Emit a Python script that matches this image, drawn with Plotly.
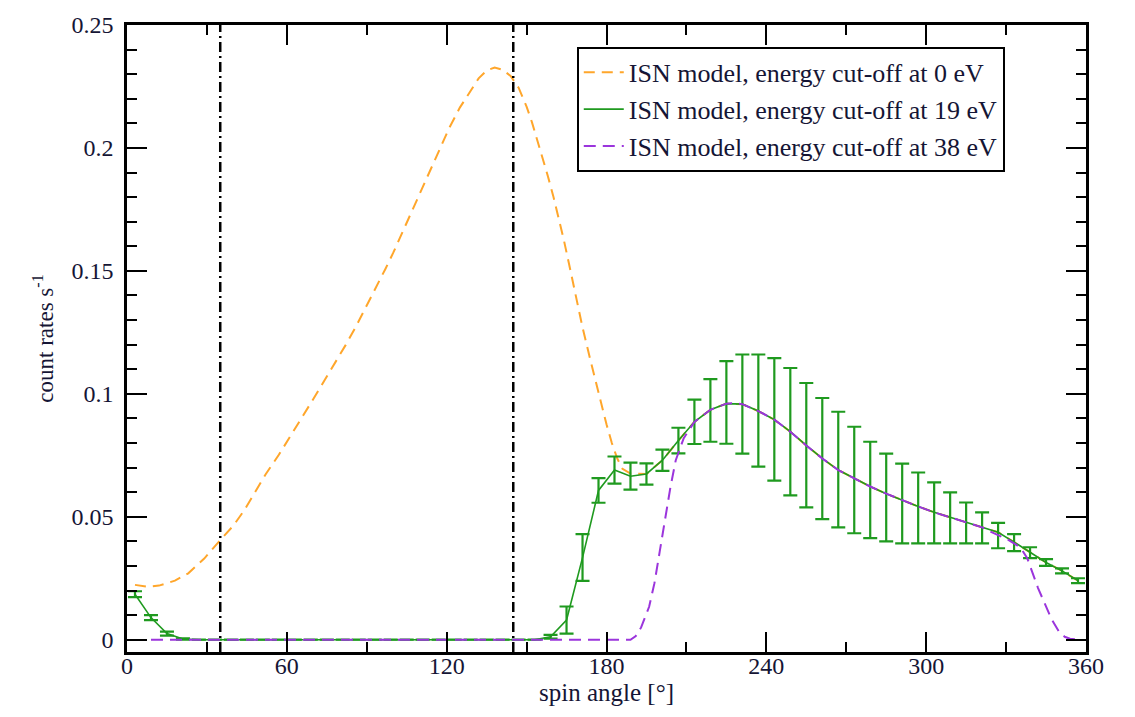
import plotly.graph_objects as go

# ---------------- data ----------------
orange_x = [3, 8, 12, 18, 23, 29, 35, 40, 44, 48, 52, 57, 61, 66, 70, 74, 78, 82, 86,
            90, 94, 97, 100, 105, 110, 114, 117, 121, 125, 129, 132, 135, 138, 141,
            144, 147, 150, 152, 155, 158, 160, 162, 164, 166, 169, 171, 174, 176, 178,
            180, 182, 184, 186, 189, 195, 201, 207, 213, 219, 225, 231, 237, 243,
            249, 255, 261, 267, 273, 279, 285, 291, 297, 303, 309, 315, 321, 327,
            333, 339, 345, 351, 357]
orange_y = [0.0223, 0.0215, 0.0220, 0.0240, 0.0270, 0.0330, 0.0405, 0.0465, 0.0526,
            0.0598, 0.0672, 0.0752, 0.0822, 0.0905, 0.0980, 0.1052, 0.1122, 0.1197,
            0.1275, 0.1358, 0.1442, 0.1508, 0.1575, 0.1695, 0.1820, 0.1915, 0.1990,
            0.2082, 0.2165, 0.2235, 0.2283, 0.2315, 0.2327, 0.2318, 0.2293, 0.2245,
            0.2168, 0.2105, 0.2000, 0.1885, 0.1805, 0.1718, 0.1625, 0.1525, 0.1375,
            0.1270, 0.1135, 0.1045, 0.0958, 0.0876, 0.0800, 0.0738, 0.0695, 0.0676,
            0.0674, 0.0730, 0.0810, 0.0886, 0.0935, 0.0960, 0.0958, 0.0930, 0.0895,
            0.0846, 0.0790, 0.0737, 0.0690, 0.0656, 0.0623, 0.0594, 0.0567, 0.0542,
            0.0518, 0.0498, 0.0480, 0.0457, 0.0437, 0.0397, 0.0356, 0.0314, 0.0280,
            0.0240]

green_x = [3, 9, 15, 21, 27, 33, 39, 45, 51, 57, 63, 69, 75, 81, 87, 93, 99, 105,
           111, 117, 123, 129, 135, 141, 147, 153, 159, 165, 171, 177, 183, 189,
           195, 201, 207, 213, 219, 225, 231, 237, 243, 249, 255, 261, 267, 273,
           279, 285, 291, 297, 303, 309, 315, 321, 327, 333, 339, 345, 351, 357]
green_y = [0.0185, 0.0090, 0.0025, 0.0003, 0, 0, 0, 0, 0, 0, 0, 0, 0, 0, 0, 0, 0, 0,
           0, 0, 0, 0, 0, 0, 0, 0, 0.0012, 0.0080, 0.0334, 0.0607, 0.0690, 0.0665,
           0.0674, 0.0730, 0.0810, 0.0886, 0.0935, 0.0960, 0.0958, 0.0930, 0.0895,
           0.0846, 0.0790, 0.0737, 0.0690, 0.0656, 0.0623, 0.0594, 0.0567, 0.0542,
           0.0518, 0.0498, 0.0480, 0.0457, 0.0437, 0.0397, 0.0356, 0.0314, 0.0280,
           0.0240]
green_err_plus = [0.0012, 0.0010, 0.0008, 0.0003, 0, 0, 0, 0, 0, 0, 0, 0, 0, 0, 0, 0,
                  0, 0, 0, 0, 0, 0, 0, 0, 0, 0, 0.0008, 0.0055, 0.0095, 0.0050, 0.0055,
                  0.0055, 0.0043, 0.0043, 0.0052, 0.0090, 0.0125, 0.0173, 0.0202,
                  0.0230, 0.0250, 0.0259, 0.0254, 0.0246, 0.0237, 0.0210, 0.0182,
                  0.0163, 0.0149, 0.0138, 0.0122, 0.0101, 0.0078, 0.0061, 0.0038,
                  0.0032, 0.0020, 0.0014, 0.0010, 0.0010]
green_err_minus = [0.0012, 0.0010, 0.0008, 0.0003, 0, 0, 0, 0, 0, 0, 0, 0, 0, 0, 0, 0,
                   0, 0, 0, 0, 0, 0, 0, 0, 0, 0, 0.0008, 0.0055, 0.0095, 0.0050, 0.0055,
                   0.0055, 0.0043, 0.0043, 0.0052, 0.0090, 0.0130, 0.0163, 0.0201,
                   0.0226, 0.0248, 0.0259, 0.0252, 0.0247, 0.0233, 0.0223, 0.0210,
                   0.0194, 0.0175, 0.0150, 0.0126, 0.0106, 0.0088, 0.0065, 0.0065,
                   0.0037, 0.0024, 0.0014, 0.0010, 0.0010]

purple_x = [9, 189, 191, 193, 196, 198, 200, 202, 204, 206, 209, 213, 219, 225, 228,
            231, 237, 243, 249, 255, 261, 267, 273, 279, 285, 291, 297, 303, 309,
            315, 321, 324, 327, 331, 334, 336, 338, 340, 342, 344, 347, 350, 352,
            354, 357]
purple_y = [0, 0, 0.0015, 0.0050, 0.0134, 0.0230, 0.0360, 0.0500, 0.0620, 0.0730,
            0.0820, 0.0886, 0.0935, 0.0960, 0.0963, 0.0958, 0.0930, 0.0895, 0.0846,
            0.0790, 0.0737, 0.0690, 0.0656, 0.0623, 0.0594, 0.0567, 0.0542, 0.0518,
            0.0498, 0.0480, 0.0457, 0.0440, 0.0425, 0.0405, 0.0385, 0.0365, 0.0330,
            0.0270, 0.0210, 0.0160, 0.0085, 0.0030, 0.0012, 0.0004, 0.0]

vline_x = [35, 145]

series_names = ["ISN model, energy cut-off at 0 eV",
                "ISN model, energy cut-off at 19 eV",
                "ISN model, energy cut-off at 38 eV"]

x_ticks = [0, 60, 120, 180, 240, 300, 360]
y_ticks = [0, 0.05, 0.1, 0.15, 0.2, 0.25]
y_tick_labels = ["0", "0.05", "0.1", "0.15", "0.2", "0.25"]

# ---------------- figure ----------------
FONT = "Liberation Serif"
ORANGE = "#ffa62b"
GREEN = "#1f9a1f"
PURPLE = "#9b35dc"
TXT = "#151535"

fig = go.Figure()

fig.add_trace(go.Scatter(
    x=orange_x, y=orange_y, mode="lines", name=series_names[0],
    line=dict(color=ORANGE, width=2, dash="11px,7px"),
))
fig.add_trace(go.Scatter(
    x=green_x, y=green_y, mode="lines", name=series_names[1],
    line=dict(color=GREEN, width=1.6),
    error_y=dict(type="data", symmetric=False, array=green_err_plus,
                 arrayminus=green_err_minus, color=GREEN, thickness=2.2, width=7),
))
fig.add_trace(go.Scatter(
    x=purple_x, y=purple_y, mode="lines", name=series_names[2],
    line=dict(color=PURPLE, width=2, dash="12px,7px"),
))

for v in vline_x:
    fig.add_vline(x=v, line=dict(color="black", width=2.5, dash="10px,4px,2px,4px"))

axis_common = dict(
    showgrid=False, zeroline=False, showline=True, linewidth=2.5, linecolor="black",
    mirror="allticks", ticks="inside", ticklen=20, tickwidth=2, tickcolor="black",
    tickfont=dict(family=FONT, size=24, color=TXT),
)

fig.update_xaxes(
    range=[0, 360], tickmode="array", tickvals=x_ticks,
    ticktext=[str(t) for t in x_ticks],
    minor=dict(dtick=30, tick0=0, ticks="inside", ticklen=10, tickwidth=2,
               tickcolor="black", showgrid=False),
    title=dict(text="spin angle [°]", font=dict(family=FONT, size=25, color=TXT),
               standoff=0),
    ticklabelstandoff=-10,
    **axis_common,
)
fig.update_yaxes(
    range=[-0.005, 0.25], tickmode="array", tickvals=y_ticks, ticktext=y_tick_labels,
    minor=dict(dtick=0.01, tick0=0, ticks="inside", ticklen=10, tickwidth=2,
               tickcolor="black", showgrid=False),
    title=dict(text="count rates s<sup>-1</sup>",
               font=dict(family=FONT, size=23, color=TXT), standoff=12),
    ticklabelstandoff=6,
    **axis_common,
)

fig.update_layout(
    width=1135, height=717,
    margin=dict(l=127, r=49, t=22, b=65, pad=0),
    paper_bgcolor="white", plot_bgcolor="white",
    font=dict(family=FONT, color=TXT),
    legend=dict(
        x=0.469, y=0.965, xanchor="left", yanchor="top",
        bgcolor="white", bordercolor="black", borderwidth=2,
        font=dict(family=FONT, size=26, color=TXT),
        itemwidth=40, tracegroupgap=0,
    ),
    showlegend=True,
)

fig.write_html("out.html")
